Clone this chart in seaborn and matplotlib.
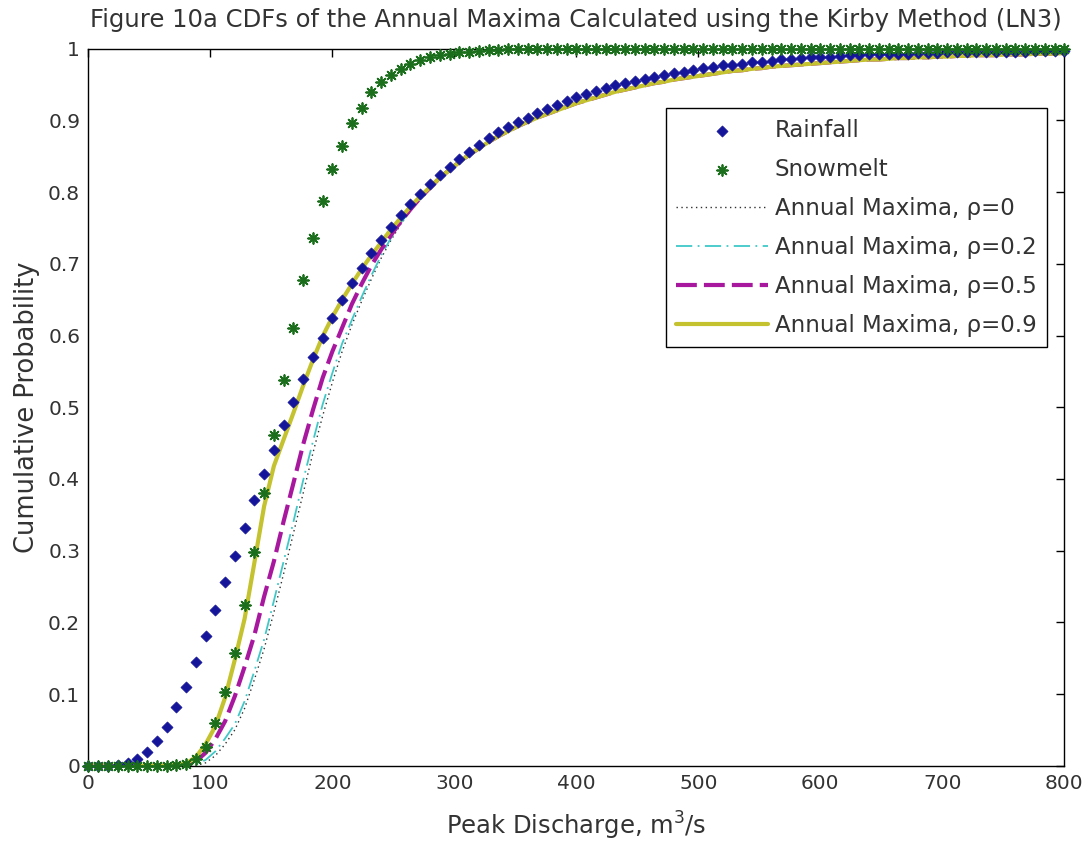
import numpy as np
import matplotlib
matplotlib.use("Agg")
import matplotlib.pyplot as plt
import seaborn as sns

# Sampling grid of peak discharge (m^3/s)
x_grid = np.arange(0, 801, 8)

rainfall = [
    0.000, 0.000, 0.000, 0.001, 0.004, 0.010, 0.019, 0.035, 0.054, 0.082,
    0.110, 0.144, 0.181, 0.217, 0.256, 0.292, 0.331, 0.371, 0.407, 0.440,
    0.475, 0.507, 0.539, 0.570, 0.597, 0.624, 0.650, 0.673, 0.694, 0.715,
    0.733, 0.751, 0.768, 0.784, 0.798, 0.811, 0.824, 0.835, 0.846, 0.856,
    0.866, 0.876, 0.884, 0.891, 0.898, 0.904, 0.910, 0.916, 0.921, 0.927,
    0.932, 0.937, 0.941, 0.945, 0.949, 0.952, 0.955, 0.958, 0.961, 0.963,
    0.966, 0.968, 0.971, 0.973, 0.975, 0.977, 0.978, 0.979, 0.981, 0.982,
    0.983, 0.985, 0.986, 0.987, 0.988, 0.989, 0.989, 0.990, 0.991, 0.991,
    0.992, 0.992, 0.993, 0.993, 0.993, 0.994, 0.994, 0.994, 0.995, 0.995,
    0.995, 0.995, 0.996, 0.996, 0.996, 0.996, 0.996, 0.997, 0.997, 0.997,
    0.997,
]

snowmelt = [
    0.000, 0.000, 0.000, 0.000, 0.000, 0.000, 0.000, 0.000, 0.000, 0.001,
    0.003, 0.010, 0.026, 0.060, 0.103, 0.157, 0.224, 0.298, 0.380, 0.461,
    0.538, 0.611, 0.677, 0.736, 0.788, 0.832, 0.865, 0.896, 0.918, 0.939,
    0.953, 0.964, 0.972, 0.979, 0.984, 0.988, 0.991, 0.993, 0.995, 0.996,
    0.997, 0.998, 0.998, 0.999, 0.999, 0.999, 0.999, 1.000, 1.000, 1.000,
    1.000, 1.000, 1.000, 1.000, 1.000, 1.000, 1.000, 1.000, 1.000, 1.000,
    1.000, 1.000, 1.000, 1.000, 1.000, 1.000, 1.000, 1.000, 1.000, 1.000,
    1.000, 1.000, 1.000, 1.000, 1.000, 1.000, 1.000, 1.000, 1.000, 1.000,
    1.000, 1.000, 1.000, 1.000, 1.000, 1.000, 1.000, 1.000, 1.000, 1.000,
    1.000, 1.000, 1.000, 1.000, 1.000, 1.000, 1.000, 1.000, 1.000, 1.000,
    1.000,
]

# Annual maxima CDFs for x = 0..280 (step 8), one list per correlation
am_rho0_head = [
    0.000, 0.000, 0.000, 0.000, 0.000, 0.000, 0.000, 0.000, 0.000, 0.000,
    0.000, 0.000, 0.004, 0.014, 0.030, 0.050, 0.080, 0.120, 0.163, 0.214,
    0.268, 0.324, 0.380, 0.436, 0.488, 0.535, 0.578, 0.615, 0.648, 0.679,
    0.708, 0.733, 0.755, 0.774, 0.790, 0.805,
]
am_rho02_head = [
    0.000, 0.000, 0.000, 0.000, 0.000, 0.000, 0.000, 0.000, 0.000, 0.000,
    0.000, 0.002, 0.008, 0.020, 0.038, 0.058, 0.090, 0.132, 0.176, 0.230,
    0.285, 0.340, 0.398, 0.452, 0.504, 0.548, 0.589, 0.622, 0.654, 0.684,
    0.712, 0.736, 0.757, 0.775, 0.791, 0.806,
]
am_rho05_head = [
    0.000, 0.000, 0.000, 0.000, 0.000, 0.000, 0.000, 0.000, 0.000, 0.000,
    0.001, 0.006, 0.018, 0.037, 0.062, 0.097, 0.138, 0.182, 0.236, 0.285,
    0.341, 0.394, 0.448, 0.496, 0.541, 0.578, 0.611, 0.644, 0.672, 0.698,
    0.720, 0.740, 0.759, 0.776, 0.792, 0.806,
]
am_rho09_head = [
    0.000, 0.000, 0.000, 0.000, 0.000, 0.000, 0.000, 0.000, 0.000, 0.001,
    0.003, 0.012, 0.030, 0.055, 0.095, 0.148, 0.205, 0.283, 0.362, 0.418,
    0.455, 0.492, 0.530, 0.566, 0.599, 0.626, 0.650, 0.672, 0.693, 0.712,
    0.730, 0.748, 0.764, 0.780, 0.794, 0.807,
]
# Above 280 m^3/s the four annual-maxima curves coincide
am_tail = [
    0.820, 0.831, 0.842, 0.852, 0.861, 0.870, 0.878, 0.885, 0.892, 0.898,
    0.904, 0.909, 0.914, 0.919, 0.924, 0.928, 0.932, 0.936, 0.940, 0.943,
    0.946, 0.949, 0.952, 0.954, 0.957, 0.959, 0.961, 0.963, 0.965, 0.967,
    0.969, 0.970, 0.972, 0.973, 0.975, 0.976, 0.977, 0.978, 0.979, 0.980,
    0.981, 0.982, 0.983, 0.984, 0.985, 0.985, 0.986, 0.987, 0.987, 0.988,
    0.988, 0.989, 0.989, 0.990, 0.990, 0.991, 0.991, 0.991, 0.992, 0.992,
    0.992, 0.993, 0.993, 0.993, 0.994,
]

rho_labels = ["0", "0.2", "0.5", "0.9"]

sns.set_style("white")
plt.rcParams["font.family"] = ["DejaVu Sans"]
text_grey = "#333333"
plt.rcParams["text.color"] = text_grey
plt.rcParams["axes.labelcolor"] = text_grey
plt.rcParams["xtick.color"] = "#000000"
plt.rcParams["ytick.color"] = "#000000"
plt.rcParams["xtick.labelcolor"] = text_grey
plt.rcParams["ytick.labelcolor"] = text_grey

fig = plt.figure(figsize=(10.83, 8.46), dpi=100)
ax = fig.add_axes([0.0817, 0.0949, 0.9010, 0.8475])

line_styles = [
    dict(color="#303030", lw=1.0, dashes=(1.0, 2.5)),
    dict(color="#40c8c8", lw=1.3, dashes=(9, 3, 1, 3)),
    dict(color="#a8189f", lw=3.0, dashes=(5, 1.7)),
    dict(color="#c4c22e", lw=3.0),
]
heads = [am_rho0_head, am_rho02_head, am_rho05_head, am_rho09_head]

line_handles = []
for lab, head, st in zip(rho_labels, heads, line_styles):
    yvals = np.array(head + am_tail)
    n_before = len(ax.lines)
    sns.lineplot(x=x_grid, y=yvals, ax=ax, label=f"Annual Maxima, \u03c1={lab}",
                 sort=False, estimator=None, **st)
    line_handles.append(ax.lines[n_before])

n_coll = len(ax.collections)
sns.scatterplot(x=x_grid, y=rainfall, ax=ax, marker="D", s=32,
                color="#15159a", edgecolor="#15159a", linewidth=0.5,
                clip_on=False, zorder=5, label="Rainfall")
rain_handle = ax.collections[n_coll]
n_coll = len(ax.collections)
sns.scatterplot(x=x_grid, y=snowmelt, ax=ax, marker=(8, 2, 0), s=60,
                color="#1b6e1b", linewidth=1.3, clip_on=False, zorder=5,
                label="Snowmelt")
snow_handle = ax.collections[n_coll]

ax.set_xlim(0, 800)
ax.set_ylim(0, 1)
ax.set_xticks(range(0, 801, 100))
ax.set_yticks(np.arange(0, 1.01, 0.1))
ax.set_yticklabels(["0", "0.1", "0.2", "0.3", "0.4", "0.5", "0.6", "0.7", "0.8", "0.9", "1"])
ax.tick_params(direction="in", length=6, width=1, top=True, right=True,
               labelsize=14.5, pad=6)
for sp in ax.spines.values():
    sp.set_visible(True)
    sp.set_color("black")
    sp.set_linewidth(1.0)

ax.set_xlabel("Peak Discharge, m$^3$/s", fontsize=17.5, labelpad=12)
ax.set_ylabel("Cumulative Probability", fontsize=18.5, labelpad=6)
ax.set_title("Figure 10a CDFs of the Annual Maxima Calculated using the Kirby Method (LN3)",
             fontsize=17.5, pad=16)

handles = [rain_handle, snow_handle] + line_handles
labels = ["Rainfall", "Snowmelt"] + [f"Annual Maxima, \u03c1={r}" for r in rho_labels]
leg = ax.legend(handles, labels, loc="upper left",
                bbox_to_anchor=(0.592, 0.917), fontsize=16.5, frameon=True,
                fancybox=False, edgecolor="black", framealpha=1,
                handlelength=4.0, handletextpad=0.3, borderpad=0.45,
                labelspacing=0.7, borderaxespad=0, markerscale=1.0)
leg.get_frame().set_linewidth(1.0)

fig.savefig("out.png", dpi=100)
